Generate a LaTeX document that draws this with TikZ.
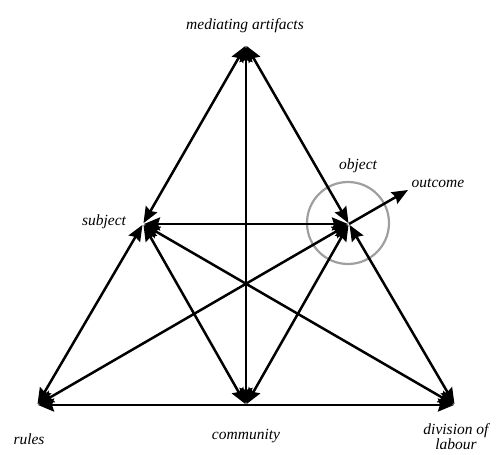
\documentclass[tikz,border=0pt]{standalone}
\usepackage{fontspec}
\setmainfont{Liberation Serif}
\usetikzlibrary{arrows.meta}
\begin{document}
\begin{tikzpicture}[x=1pt,y=-1pt,
  link/.style={line width=2.5pt,{Stealth[length=16pt,width=13pt,inset=2pt]}-{Stealth[length=16pt,width=13pt,inset=2pt]}, shorten <=1pt, shorten >=1pt},
  onelink/.style={line width=2.5pt,-{Stealth[length=16pt,width=13pt,inset=2pt]}},
  lbl/.style={font=\itshape\fontsize{15.5}{17}\selectfont, inner sep=0pt, align=center}]
\useasboundingbox (0,0) rectangle (496,455);
\coordinate (T) at (246,45);
\coordinate (S) at (143,224);
\coordinate (O) at (349,224);
\coordinate (R) at (37,405);
\coordinate (C) at (246,405);
\coordinate (D) at (455,405);
\coordinate (Out) at (408,190);
\draw[gray!75, line width=2.2pt] (348,223) circle (41);
\draw[link] (T) -- (S);
\draw[link] (T) -- (O);
\draw[link] (T) -- (C);
\draw[link] (S) -- (O);
\draw[link] (S) -- (R);
\draw[link] (S) -- (C);
\draw[link] (O) -- (C);
\draw[link] (O) -- (D);
\draw[link] (R) -- (D);
\draw[link] (R) -- (O);
\draw[link] (D) -- (S);
\draw[onelink] (O) -- (Out);
\node[lbl] (lT) at (245,26) {mediating artifacts};
\node[lbl] (lS) at (104,222) {subject};
\node[lbl] (lO) at (358,166) {object};
\node[lbl] (lOut) at (438,183) {outcome};
\node[lbl] (lR) at (29,439) {rules};
\node[lbl] (lC) at (246,436) {community};
\node[lbl,anchor=south,font=\itshape\fontsize{15.5}{15}\selectfont] (lD) at (456,450) {division of\\labour};
\end{tikzpicture}
\end{document}
